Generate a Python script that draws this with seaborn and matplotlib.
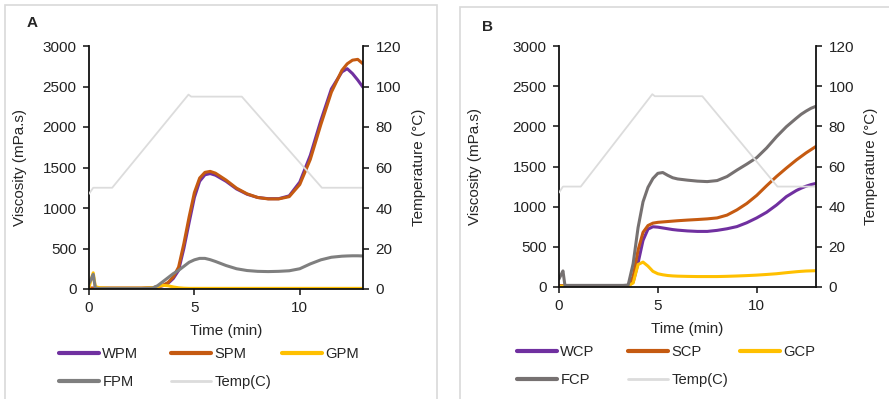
import matplotlib
matplotlib.use("Agg")
import matplotlib.pyplot as plt
from matplotlib.patches import Rectangle
import seaborn as sns

# Time grid (min) shared by the viscosity series
time_min = [0, 0.1, 0.2, 0.3, 0.5, 1, 1.5, 2, 2.5, 3, 3.25, 3.5, 3.75, 4, 4.25, 4.5,
            4.75, 5, 5.25, 5.5, 5.75, 6, 6.5, 7, 7.5, 8, 8.5, 9, 9.5, 10, 10.5, 11,
            11.5, 12, 12.25, 12.5, 12.75, 13]

# Panel A viscosity (mPa.s)
wpm = [10, 10, 10, 10, 10, 10, 10, 10, 10, 15, 25, 40, 70, 130, 230, 500,
       820, 1130, 1330, 1410, 1425, 1405, 1330, 1235, 1170, 1130, 1115, 1115, 1150, 1320, 1650, 2080,
       2470, 2680, 2720, 2660, 2580, 2490]
spm = [10, 10, 10, 10, 10, 10, 10, 10, 10, 15, 25, 45, 80, 150, 270, 560,
       890, 1190, 1370, 1440, 1452, 1430, 1345, 1245, 1175, 1130, 1112, 1112, 1140, 1290, 1600, 2030,
       2430, 2700, 2780, 2825, 2835, 2780]
gpm = [20, 120, 200, 30, 15, 10, 10, 10, 10, 15, 30, 45, 40, 25, 15, 10,
       8, 8, 8, 8, 8, 8, 8, 8, 8, 8, 8, 8, 8, 8, 8, 8,
       8, 8, 8, 8, 8, 8]
fpm = [70, 120, 180, 10, 5, 5, 5, 5, 5, 10, 40, 90, 140, 190, 230, 280,
       330, 360, 378, 378, 362, 340, 290, 250, 228, 218, 215, 218, 225, 250, 310, 360,
       392, 405, 408, 410, 410, 408]

# Panel B viscosity (mPa.s)
wcp = [15, 15, 15, 15, 15, 15, 15, 15, 15, 15, 15, 15, 60, 300, 580, 720,
       750, 745, 735, 725, 715, 708, 698, 692, 692, 705, 725, 752, 800, 860, 930, 1020,
       1125, 1200, 1230, 1255, 1275, 1290]
scp = [15, 15, 15, 15, 15, 15, 15, 15, 15, 15, 15, 20, 130, 460, 680, 765,
       795, 805, 810, 815, 820, 825, 833, 840, 848, 860, 895, 960, 1040, 1140, 1260, 1375,
       1480, 1580, 1625, 1670, 1710, 1750]
gcp = [10, 10, 10, 10, 10, 10, 10, 10, 10, 10, 10, 15, 50, 280, 310, 260,
       195, 165, 152, 143, 138, 135, 132, 130, 130, 130, 133, 137, 142, 148, 156, 165,
       178, 190, 195, 199, 201, 203]
fcp = [100, 150, 200, 20, 20, 20, 20, 20, 20, 20, 20, 25, 290, 740, 1060, 1240,
       1350, 1415, 1425, 1390, 1360, 1345, 1330, 1318, 1312, 1325, 1375, 1455, 1530, 1610, 1730, 1870,
       1995, 2100, 2150, 2190, 2225, 2250]

# Temperature programme (°C)
temp_time = [0, 0.2, 1.1, 4.72, 4.85, 7.25, 11.05, 13]
temp_c = [47, 50, 50, 96, 95, 95, 50, 50]

sns.set_style("ticks")
plt.rcParams["font.family"] = ["Liberation Sans", "DejaVu Sans"]

fig = plt.figure(figsize=(8.89, 3.99), dpi=100)

# light frames around the two panels
for x0, y0, w in [(5, 5, 432), (460, 7, 440)]:
    fig.patches.append(Rectangle((x0 / 889, -0.05), w / 889, 1 - y0 / 399 + 0.05,
                                 transform=fig.transFigure, fill=False,
                                 edgecolor="#D9D9D9", linewidth=1.2, zorder=0))

panels = [
    dict(rect=[89 / 889, 1 - 289 / 399, (363 - 89) / 889, (289 - 46) / 399],
         tag="A", tag_xy=(27 / 889, 1 - 23 / 399), vpad=11, tpad=8,
         series=[("WPM", wpm, "#7030A0"), ("SPM", spm, "#C55A11"),
                 ("GPM", gpm, "#FFC000"), ("FPM", fpm, "#7F7F7F")],
         leg_x=[59, 171, 282], leg_y=347),
    dict(rect=[559 / 889, 1 - 287 / 399, (816 - 559) / 889, (287 - 46) / 399],
         tag="B", tag_xy=(482 / 889, 1 - 27 / 399), vpad=22, tpad=7,
         series=[("WCP", wcp, "#7030A0"), ("SCP", scp, "#C55A11"),
                 ("GCP", gcp, "#FFC000"), ("FCP", fcp, "#767171")],
         leg_x=[517, 628, 740], leg_y=345),
]

for p in panels:
    ax = fig.add_axes(p["rect"])
    handles = []
    for name, vals, col in p["series"]:
        sns.lineplot(x=time_min, y=vals, ax=ax, color=col, linewidth=2.2,
                     legend=False, estimator=None)
        handles.append((ax.lines[-1], name))
    ax.set_xlim(0, 13)
    ax.set_ylim(0, 3000)
    ax.set_xticks([0, 5, 10])
    ax.set_yticks(range(0, 3001, 500))
    ax.set_xlabel("Time (min)", fontsize=11, labelpad=6)
    ax.set_ylabel("Viscosity (mPa.s)", fontsize=11, labelpad=p["vpad"])
    ax.tick_params(labelsize=11, length=4, width=1.2, pad=5, colors="#222222")
    for s in ["left", "bottom"]:
        ax.spines[s].set_linewidth(1.3)
        ax.spines[s].set_color("#111111")
    ax.spines["top"].set_visible(False)
    ax.spines["right"].set_visible(False)

    ax2 = ax.twinx()
    sns.lineplot(x=temp_time, y=temp_c, ax=ax2, color="#DCDCDC", linewidth=1.3,
                 legend=False, estimator=None)
    handles.append((ax2.lines[-1], "Temp(C)"))
    ax2.set_ylim(0, 120)
    ax2.set_yticks(range(0, 121, 20))
    ax2.set_ylabel("Temperature (°C)", fontsize=11, labelpad=p["tpad"])
    ax2.tick_params(labelsize=11, length=4, width=1.2, pad=5, colors="#222222")
    ax2.spines["right"].set_linewidth(1.3)
    ax2.spines["right"].set_color("#111111")
    for s in ["top", "left", "bottom"]:
        ax2.spines[s].set_visible(False)

    fig.text(*p["tag_xy"], p["tag"], fontsize=11, fontweight="bold",
             ha="left", va="center")

    # legend laid out in three equal-width columns, two rows
    cols = [[handles[0], handles[3]], [handles[1], handles[4]], [handles[2]]]
    for cx, entries in zip(p["leg_x"], cols):
        leg = fig.legend([h for h, _ in entries], [n for _, n in entries],
                         loc="upper left", bbox_to_anchor=(cx / 889, 1 - p["leg_y"] / 399),
                         frameon=False, fontsize=10.6, handlelength=2.75,
                         handletextpad=0.2, labelspacing=0.95, borderpad=0.0,
                         borderaxespad=0.0)
        for line in leg.get_lines():
            line.set_linewidth(3.0 if line.get_color() != "#DCDCDC" else 2.0)

fig.savefig("out.png", dpi=100)
